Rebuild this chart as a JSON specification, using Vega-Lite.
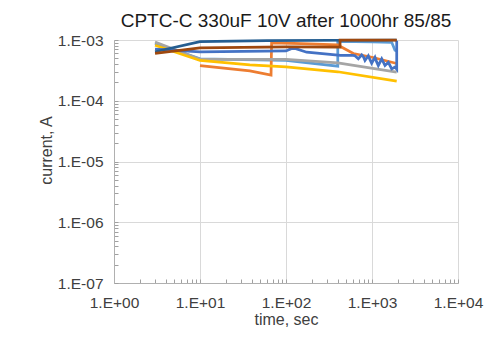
{
  "$schema": "https://vega.github.io/schema/vega-lite/v6.json",
  "width": 344,
  "height": 243,
  "autosize": {"type": "none"},
  "padding": {"left": 114, "top": 40, "right": 26, "bottom": 63},
  "background": "white",
  "config": {
    "view": {"stroke": null},
    "font": "Liberation Sans"
  },
  "title": {
    "text": "CPTC-C 330uF 10V after 1000hr 85/85",
    "font": "Liberation Sans",
    "fontSize": 19,
    "fontWeight": "normal",
    "color": "#1a1a1a",
    "anchor": "middle",
    "baseline": "alphabetic",
    "offset": 12,
    "dy": 25
  },
  "data": {
    "values": [
      {"s": "s1", "k": 1, "t": 3, "i": 0.00088},
      {"s": "s1", "k": 2, "t": 10, "i": 0.00049},
      {"s": "s1", "k": 3, "t": 100, "i": 0.00046},
      {"s": "s1", "k": 4, "t": 400, "i": 0.00037},
      {"s": "s1", "k": 5, "t": 400, "i": 0.00095},
      {"s": "s1", "k": 6, "t": 1000, "i": 0.00093},
      {"s": "s1", "k": 7, "t": 1700, "i": 0.00091},
      {"s": "s1", "k": 8, "t": 1850, "i": 0.00068},
      {"s": "s1", "k": 9, "t": 1938, "i": 0.00066},

      {"s": "s2", "k": 1, "t": 10, "i": 0.00038},
      {"s": "s2", "k": 2, "t": 38, "i": 0.00031},
      {"s": "s2", "k": 3, "t": 67, "i": 0.000265},
      {"s": "s2", "k": 4, "t": 68, "i": 0.00090},
      {"s": "s2", "k": 5, "t": 150, "i": 0.00087},
      {"s": "s2", "k": 6, "t": 400, "i": 0.00083},
      {"s": "s2", "k": 7, "t": 430, "i": 0.00078},
      {"s": "s2", "k": 8, "t": 607, "i": 0.00060},
      {"s": "s2", "k": 9, "t": 1000, "i": 0.00052},
      {"s": "s2", "k": 10, "t": 1938, "i": 0.00041},

      {"s": "s3", "k": 1, "t": 3, "i": 0.00093},
      {"s": "s3", "k": 2, "t": 10, "i": 0.00048},
      {"s": "s3", "k": 3, "t": 60, "i": 0.00048},
      {"s": "s3", "k": 4, "t": 100, "i": 0.00048},
      {"s": "s3", "k": 5, "t": 400, "i": 0.00042},
      {"s": "s3", "k": 6, "t": 1938, "i": 0.000295},

      {"s": "s4", "k": 1, "t": 3, "i": 0.00082},
      {"s": "s4", "k": 2, "t": 10, "i": 0.00046},
      {"s": "s4", "k": 3, "t": 38, "i": 0.00039},
      {"s": "s4", "k": 4, "t": 100, "i": 0.00036},
      {"s": "s4", "k": 5, "t": 400, "i": 0.00030},
      {"s": "s4", "k": 6, "t": 1938, "i": 0.00021},

      {"s": "s5", "k": 1, "t": 3, "i": 0.00071},
      {"s": "s5", "k": 2, "t": 10, "i": 0.00064},
      {"s": "s5", "k": 3, "t": 100, "i": 0.00066},
      {"s": "s5", "k": 4, "t": 115, "i": 0.00072},
      {"s": "s5", "k": 5, "t": 130, "i": 0.00072},
      {"s": "s5", "k": 6, "t": 174, "i": 0.00063},
      {"s": "s5", "k": 7, "t": 430, "i": 0.00056},
      {"s": "s5", "k": 8, "t": 600, "i": 0.00056},
      {"s": "s5", "k": 9, "t": 634, "i": 0.00055},
      {"s": "s5", "k": 10, "t": 693, "i": 0.00049},
      {"s": "s5", "k": 11, "t": 759, "i": 0.00057},
      {"s": "s5", "k": 12, "t": 800, "i": 0.00052},
      {"s": "s5", "k": 13, "t": 829, "i": 0.00046},
      {"s": "s5", "k": 14, "t": 906, "i": 0.00055},
      {"s": "s5", "k": 15, "t": 950, "i": 0.00047},
      {"s": "s5", "k": 16, "t": 991, "i": 0.000415},
      {"s": "s5", "k": 17, "t": 1083, "i": 0.00052},
      {"s": "s5", "k": 18, "t": 1130, "i": 0.00044},
      {"s": "s5", "k": 19, "t": 1184, "i": 0.00038},
      {"s": "s5", "k": 20, "t": 1297, "i": 0.00049},
      {"s": "s5", "k": 21, "t": 1416, "i": 0.00038},
      {"s": "s5", "k": 22, "t": 1549, "i": 0.00043},
      {"s": "s5", "k": 23, "t": 1694, "i": 0.000335},
      {"s": "s5", "k": 24, "t": 1850, "i": 0.00036},
      {"s": "s5", "k": 25, "t": 1938, "i": 0.00033},
      {"s": "s5", "k": 26, "t": 1938, "i": 0.00097},

      {"s": "s6", "k": 1, "t": 3, "i": 0.00064},
      {"s": "s6", "k": 2, "t": 10, "i": 0.00094},
      {"s": "s6", "k": 3, "t": 60, "i": 0.00098},
      {"s": "s6", "k": 4, "t": 1938, "i": 0.00100},

      {"s": "s7", "k": 1, "t": 3, "i": 0.00060},
      {"s": "s7", "k": 2, "t": 10, "i": 0.00074},
      {"s": "s7", "k": 3, "t": 100, "i": 0.00077},
      {"s": "s7", "k": 4, "t": 425, "i": 0.00076},
      {"s": "s7", "k": 5, "t": 425, "i": 0.00100},
      {"s": "s7", "k": 6, "t": 1938, "i": 0.00100}
    ]
  },
  "mark": {"type": "line", "strokeWidth": 2.75, "strokeCap": "butt", "strokeJoin": "miter", "clip": false},
  "encoding": {
    "x": {
      "field": "t",
      "type": "quantitative",
      "scale": {"type": "log", "domain": [1, 10000], "nice": false},
      "axis": {
        "title": "time, sec",
        "titleFont": "Liberation Sans",
        "titleFontSize": 16,
        "titleFontWeight": "normal",
        "titleColor": "#404040",
        "titleBaseline": "middle",
        "titleAlign": "center",
        "titleY": 36,
        "values": [1,2,3,4,5,6,7,8,9,10,20,30,40,50,60,70,80,90,100,200,300,400,500,600,700,800,900,1000,2000,3000,4000,5000,6000,7000,8000,9000,10000],
        "labelExpr": "abs(log(datum.value)/LN10 - round(log(datum.value)/LN10)) > 0.01 ? '' : '1.E' + (round(log(datum.value)/LN10) < 0 ? '-' : '+') + '0' + abs(round(log(datum.value)/LN10))",
        "labelFont": "Liberation Sans",
        "labelFontSize": 15.5,
        "labelColor": "#404040",
        "labelPadding": 16,
        "labelFlush": false,
        "labelOverlap": false,
        "labelBound": false,
        "domainColor": "#B0B0B0",
        "domainWidth": 1,
        "tickColor": "#A0A0A0",
        "tickSize": -4,
        "tickWidth": 1,
        "grid": true,
        "gridColor": "#D9D9D9",
        "gridWidth": 1,
        "gridOpacity": {"condition": {"test": "abs(log(datum.value)/LN10 - round(log(datum.value)/LN10)) > 0.01", "value": 0}, "value": 1}
      }
    },
    "y": {
      "field": "i",
      "type": "quantitative",
      "scale": {"type": "log", "domain": [1e-7, 1e-3], "nice": false},
      "axis": {
        "title": "current, A",
        "titleFont": "Liberation Sans",
        "titleFontSize": 16,
        "titleFontWeight": "normal",
        "titleColor": "#404040",
        "titleBaseline": "middle",
        "titleAlign": "center",
        "titleAngle": -90,
        "titleX": -68,
        "titleY": 110,
        "values": [1e-7,2e-7,3e-7,4e-7,5e-7,6e-7,7e-7,8e-7,9e-7,1e-6,2e-6,3e-6,4e-6,5e-6,6e-6,7e-6,8e-6,9e-6,1e-5,2e-5,3e-5,4e-5,5e-5,6e-5,7e-5,8e-5,9e-5,1e-4,2e-4,3e-4,4e-4,5e-4,6e-4,7e-4,8e-4,9e-4,1e-3],
        "labelExpr": "abs(log(datum.value)/LN10 - round(log(datum.value)/LN10)) > 0.01 ? '' : '1.E' + (round(log(datum.value)/LN10) < 0 ? '-' : '+') + '0' + abs(round(log(datum.value)/LN10))",
        "labelFont": "Liberation Sans",
        "labelFontSize": 15.5,
        "labelColor": "#404040",
        "labelPadding": 15,
        "labelFlush": false,
        "labelOverlap": false,
        "labelBound": false,
        "domainColor": "#B0B0B0",
        "domainWidth": 1,
        "tickColor": "#A0A0A0",
        "tickSize": -4,
        "tickWidth": 1,
        "grid": true,
        "gridColor": "#D9D9D9",
        "gridWidth": 1,
        "gridOpacity": {"condition": {"test": "abs(log(datum.value)/LN10 - round(log(datum.value)/LN10)) > 0.01", "value": 0}, "value": 1}
      }
    },
    "color": {
      "field": "s",
      "type": "nominal",
      "scale": {
        "domain": ["s1", "s2", "s3", "s4", "s5", "s6", "s7"],
        "range": ["#5B9BD5", "#ED7D31", "#A5A5A5", "#FFC000", "#4472C4", "#255E91", "#9E480E"]
      },
      "legend": null
    },
    "order": {"field": "k", "type": "quantitative"}
  }
}
